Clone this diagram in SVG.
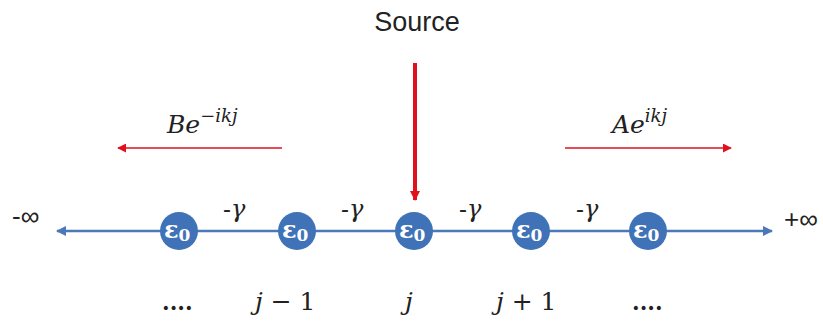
<svg xmlns="http://www.w3.org/2000/svg" width="823" height="322" viewBox="0 0 823 322">
<style>
.axis{stroke:#4a78b8;stroke-width:2.5;fill:none}
.red{stroke:#e0101c;fill:none}
.node circle{fill:#3f72b6}
.node text{fill:#fff;font-family:"DejaVu Serif","Liberation Serif",serif;font-weight:bold;font-size:24px}
.math{font-family:"DejaVu Serif","Liberation Serif",serif;font-style:italic;fill:#222}
.up{font-family:"DejaVu Serif","Liberation Serif",serif;fill:#222}
.lbl{font-family:"Liberation Sans",Arial,sans-serif;fill:#222}
</style>
<defs>
<marker id="ab" viewBox="0 0 10 10" refX="9" refY="5" markerWidth="4" markerHeight="4" orient="auto"><path d="M0,0 L10,5 L0,10 z" fill="#4a78b8"/></marker>
<marker id="ar" viewBox="0 0 10 10" refX="9" refY="5" markerWidth="6" markerHeight="6" orient="auto"><path d="M0,0 L10,5 L0,10 z" fill="#e0101c"/></marker>
<marker id="ars" viewBox="0 0 10 10" refX="9" refY="5" markerWidth="2.5" markerHeight="2.5" orient="auto"><path d="M0,0 L10,5 L0,10 z" fill="#e0101c"/></marker>
</defs>
<g id="connectors">
<line class="axis" x1="414" y1="231" x2="57" y2="231" marker-end="url(#ab)"/>
<line class="axis" x1="414" y1="231" x2="772" y2="231" marker-end="url(#ab)"/>
<line class="red" x1="415" y1="63" x2="415" y2="200" stroke-width="4" marker-end="url(#ars)"/>
<line class="red" x1="282" y1="148" x2="118" y2="148" stroke-width="1.5" marker-end="url(#ar)"/>
<line class="red" x1="565" y1="148" x2="731" y2="148" stroke-width="1.5" marker-end="url(#ar)"/>
</g>
<g id="n1" class="node"><circle cx="179" cy="231" r="19"/><text x="164" y="238">ε<tspan font-size="17" dy="3">0</tspan></text></g>
<g id="n2" class="node"><circle cx="297" cy="231" r="19"/><text x="282" y="238">ε<tspan font-size="17" dy="3">0</tspan></text></g>
<g id="n3" class="node"><circle cx="414" cy="231" r="19"/><text x="399" y="238">ε<tspan font-size="17" dy="3">0</tspan></text></g>
<g id="n4" class="node"><circle cx="531" cy="231" r="19"/><text x="516" y="238">ε<tspan font-size="17" dy="3">0</tspan></text></g>
<g id="n5" class="node"><circle cx="648" cy="231" r="19"/><text x="633" y="238">ε<tspan font-size="17" dy="3">0</tspan></text></g>
<g id="labels">
<text class="lbl" x="417" y="31" font-size="27" text-anchor="middle">Source</text>
<text class="lbl" x="12" y="225" font-size="26">-∞</text>
<text class="lbl" x="784" y="228" font-size="26">+∞</text>
<text x="223" y="217" font-size="24"><tspan class="lbl">-</tspan><tspan class="math">γ</tspan></text>
<text x="341" y="217" font-size="24"><tspan class="lbl">-</tspan><tspan class="math">γ</tspan></text>
<text x="459" y="217" font-size="24"><tspan class="lbl">-</tspan><tspan class="math">γ</tspan></text>
<text x="576" y="217" font-size="24"><tspan class="lbl">-</tspan><tspan class="math">γ</tspan></text>
<text class="math" x="167" y="133" font-size="25">Be<tspan font-size="18" dy="-11">−ikj</tspan></text>
<text class="math" x="612" y="133" font-size="25">Ae<tspan font-size="18" dy="-11">ikj</tspan></text>
<text class="up" x="162" y="310" font-size="22" font-weight="bold">....</text>
<text class="math" x="255" y="310" font-size="25">j <tspan font-style="normal">− 1</tspan></text>
<text class="math" x="405" y="310" font-size="25">j</text>
<text class="math" x="496" y="310" font-size="25">j <tspan font-style="normal">+ 1</tspan></text>
<text class="up" x="632" y="310" font-size="22" font-weight="bold">....</text>
</g>
</svg>
